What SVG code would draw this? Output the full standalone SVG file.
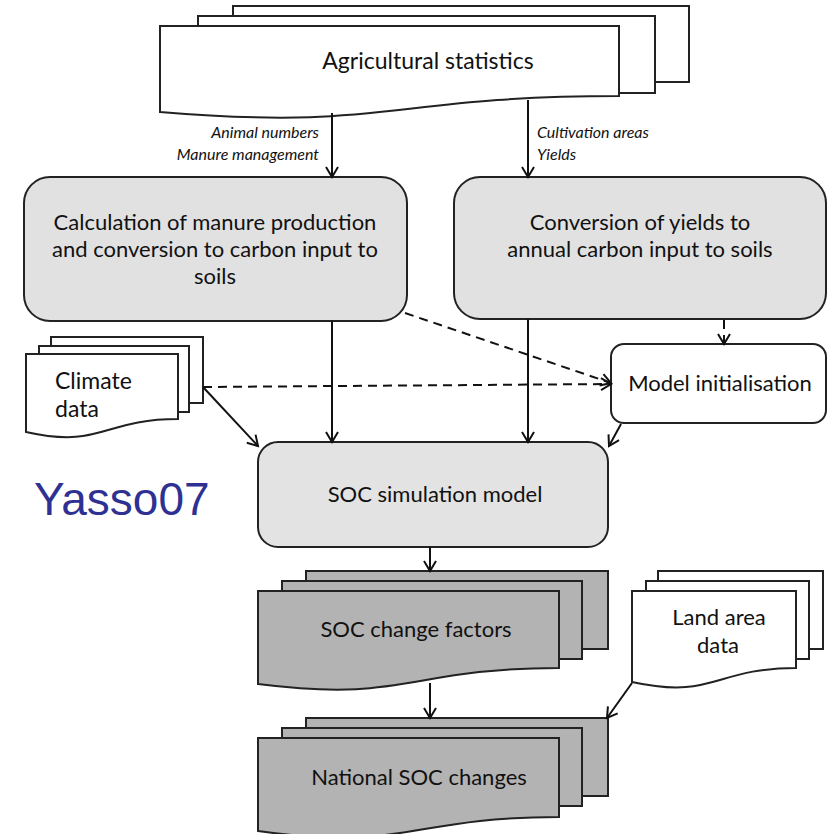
<svg xmlns="http://www.w3.org/2000/svg" width="830" height="834" viewBox="0 0 830 834">
<defs>
<marker id="arr" markerUnits="userSpaceOnUse" markerWidth="14" markerHeight="14" refX="11" refY="6" orient="auto" overflow="visible">
<path d="M1,0 L11,6 L1,12" fill="none" stroke="#111" stroke-width="2"/>
</marker>
</defs>
<style>
.doc{fill:#fff;stroke:#222;stroke-width:2}
.dark{fill:#b3b3b3}
.box{fill:#e1e1e1;stroke:#222;stroke-width:2}
.wbox{fill:#fff;stroke:#222;stroke-width:2}
.t{font-family:Lato,"Liberation Sans",sans-serif;font-size:23px;fill:#111}
.t2{font-family:Lato,"Liberation Sans",sans-serif;font-size:22px;fill:#111}
.lbl{font-family:Lato,"Liberation Sans",sans-serif;font-size:16px;font-style:italic;fill:#111}
.c{stroke:#111;stroke-width:2;fill:none;marker-end:url(#arr)}
.d{stroke-dasharray:9,6}
</style>
<rect width="830" height="834" fill="#fff"/>

<g id="agri">
<rect class="doc" x="233" y="6" width="456" height="76"/>
<rect class="doc" x="198" y="16" width="457" height="77"/>
<path class="doc" d="M160,26 H619 V96 C389,96 389,131 160,112 Z"/>
<text class="t" x="428" y="69" text-anchor="middle">Agricultural statistics</text>
</g>

<g id="calc">
<rect class="box" x="24" y="177" width="383" height="144" rx="26"/>
<text class="t2" x="215" y="230" text-anchor="middle">Calculation of manure production</text>
<text class="t2" x="215" y="257" text-anchor="middle">and conversion to carbon input to</text>
<text class="t2" x="215" y="284" text-anchor="middle">soils</text>
</g>

<g id="conv">
<rect class="box" x="454" y="177" width="372" height="142" rx="26"/>
<text class="t2" x="640" y="230" text-anchor="middle">Conversion of yields to</text>
<text class="t2" x="640" y="257" text-anchor="middle">annual carbon input to soils</text>
</g>

<g id="climate">
<rect class="doc" x="51" y="337" width="152" height="66"/>
<rect class="doc" x="39" y="346" width="150" height="66"/>
<path class="doc" d="M26,354 H178 V419 C102,419 102,449 26,432 Z"/>
<text class="t" x="55" y="389">Climate</text>
<text class="t" x="55" y="417">data</text>
</g>

<g id="init">
<rect class="wbox" x="611" y="344" width="215" height="79" rx="13"/>
<text class="t2" x="720" y="391" text-anchor="middle">Model initialisation</text>
</g>

<g id="soc">
<rect class="box" x="258" y="442" width="350" height="105" rx="20" style="fill:#e3e3e3"/>
<text class="t2" x="435" y="502" text-anchor="middle">SOC simulation model</text>
</g>

<text x="34" y="515" font-family="Liberation Sans, Arial, sans-serif" font-size="46" fill="#2e3192">Yasso07</text>

<g id="factors">
<rect class="doc dark" x="306" y="571" width="302" height="78"/>
<rect class="doc dark" x="282" y="581" width="300" height="78"/>
<path class="doc dark" d="M258,591 H559 V668 C408,668 408,703 258,684 Z"/>
<text class="t2" x="416" y="637" text-anchor="middle">SOC change factors</text>
</g>

<g id="land">
<rect class="doc" x="658" y="571" width="165" height="78"/>
<rect class="doc" x="646" y="581" width="163" height="78"/>
<path class="doc" d="M632,591 H796 V668 C714,668 714,700 632,682 Z"/>
<text class="t2" x="719" y="625" text-anchor="middle">Land area</text>
<text class="t2" x="718" y="653" text-anchor="middle">data</text>
</g>

<g id="national">
<rect class="doc dark" x="306" y="718" width="302" height="78"/>
<rect class="doc dark" x="282" y="728" width="300" height="78"/>
<path class="doc dark" d="M258,738 H559 V817 C408,817 408,852 258,831 Z"/>
<text class="t2" x="419" y="785" text-anchor="middle">National SOC changes</text>
</g>

<g id="labels">
<text class="lbl" x="319" y="138" text-anchor="end">Animal numbers</text>
<text class="lbl" x="319" y="160" text-anchor="end">Manure management</text>
<text class="lbl" x="537" y="138">Cultivation areas</text>
<text class="lbl" x="537" y="160">Yields</text>
</g>

<g id="connectors">
<line class="c" x1="332" y1="113" x2="332" y2="177"/>
<line class="c" x1="528" y1="100" x2="528" y2="177"/>
<line class="c" x1="332" y1="321" x2="332" y2="442"/>
<line class="c" x1="528" y1="319" x2="528" y2="442"/>
<line class="c" x1="203" y1="387" x2="258" y2="446"/>
<line class="c d" x1="203" y1="387" x2="611" y2="384"/>
<line class="c d" x1="405" y1="313" x2="611" y2="383"/>
<line class="c d" x1="724" y1="320" x2="724" y2="344"/>
<line class="c" x1="621" y1="424" x2="609" y2="446"/>
<line class="c" x1="430" y1="547" x2="430" y2="571"/>
<line class="c" x1="430" y1="683" x2="430" y2="718"/>
<line class="c" x1="632" y1="683" x2="607" y2="718"/>
</g>
</svg>
